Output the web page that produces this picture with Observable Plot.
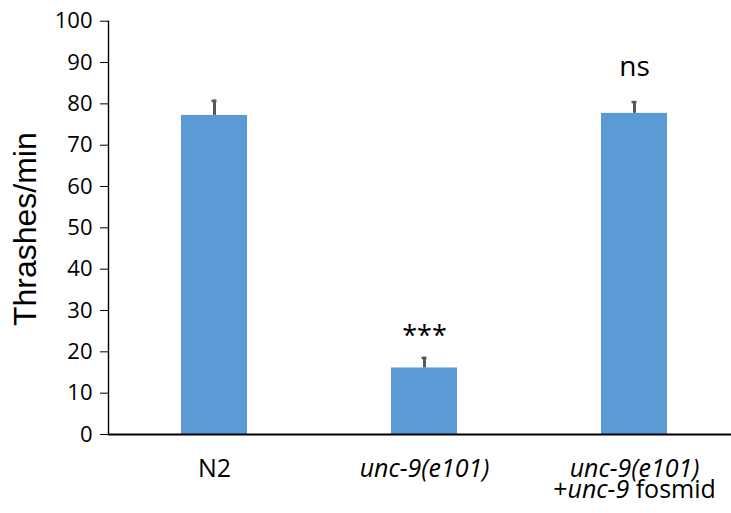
<!DOCTYPE html>
<html>
<head>
<meta charset="utf-8">
<script src="https://cdn.jsdelivr.net/npm/d3@7"></script>
<script src="https://cdn.jsdelivr.net/npm/@observablehq/plot@0.6"></script>
<style>
  html, body { margin: 0; padding: 0; background: #fff; }
  #chart svg { display: block; overflow: visible; }
</style>
</head>
<body>
<div id="chart"></div>
<script>
// ---- data ----
const groups = ["N2", "unc-9(e101)", "unc-9(e101) +unc-9 fosmid"];
const means = [77.2, 16.1, 77.7];
const sems = [3.7, 2.6, 2.9];
const annotations = ["", "***", "ns"];
const yTicks = [0, 10, 20, 30, 40, 50, 60, 70, 80, 90, 100];
const yLabel = "Thrashes/min";
// x tick labels: lines of segments, "_" prefix = italic
const labelLines = [
  [["N2"]],
  [["_unc-9(e101)"]],
  [["_unc-9(e101)"], ["+", "_unc-9", " fosmid"]]
];

const rows = groups.map((g, i) => ({group: g, mean: means[i], sem: sems[i], top: means[i] + sems[i], note: annotations[i]}));

const plot = Plot.plot({
  width: 731,
  height: 513,
  marginLeft: 108,
  marginRight: 0,
  marginTop: 20.7,
  marginBottom: 79,
  style: {fontFamily: "Open Sans", color: "#000", background: "#fff"},
  x: {domain: groups, range: [108, 739.5], paddingInner: 0.686, paddingOuter: 0.343, label: null},
  y: {domain: [0, 100], label: null},
  marks: [
    Plot.barY(rows, {x: "group", y: "mean", fill: "#5B9BD5"}),
    Plot.ruleX(rows, {x: "group", y1: "mean", y2: "top", stroke: "#595959", strokeWidth: 3}),
    Plot.rect(rows, {x: "group", y1: d => d.top - 0.6, y2: d => d.top, fill: "#595959", insetLeft: 30.5, insetRight: 30.5}),
    Plot.axisY({ticks: yTicks, tickSize: 8, tickPadding: 8, fontSize: 22, stroke: "#000", fill: "#000", label: null}),
    Plot.axisX({tickSize: 0, tickPadding: 24.5, fontSize: 25, fill: "#000", label: null}),
    Plot.frame({anchor: "left", stroke: "#000", strokeWidth: 1.4}),
    Plot.ruleY([0], {stroke: "#000", strokeWidth: 2}),
    Plot.text(rows.filter(d => d.note === "***"), {x: "group", y: 23.7, text: "note", fontSize: 27, fill: "#000", lineAnchor: "middle"}),
    Plot.text(rows.filter(d => d.note === "ns"), {x: "group", y: 89, text: "note", fontSize: 28, fill: "#000", lineAnchor: "middle"}),
    Plot.text([yLabel], {frameAnchor: "left", textAnchor: "middle", dx: -82.5, dy: 1.3, rotate: -90, fontSize: 32, fontFamily: "Liberation Sans", fill: "#000", lineAnchor: "middle"})
  ]
});

document.getElementById("chart").appendChild(plot);

// rebuild x tick labels with italic segments
const svgNS = "http://www.w3.org/2000/svg";
d3.select(plot).selectAll('g[aria-label="x-axis tick label"] text').each(function(_, i) {
  const t = this;
  const lines = labelLines[i];
  const xAttr = t.getAttribute("x") || "0";
  while (t.firstChild) t.removeChild(t.firstChild);
  lines.forEach((segs, j) => {
    const line = document.createElementNS(svgNS, "tspan");
    line.setAttribute("x", xAttr);
    if (j > 0) line.setAttribute("dy", "0.86em");
    segs.forEach(s => {
      const sp = document.createElementNS(svgNS, "tspan");
      if (s.startsWith("_")) { sp.setAttribute("font-style", "italic"); sp.textContent = s.slice(1); }
      else sp.textContent = s;
      line.appendChild(sp);
    });
    t.appendChild(line);
  });
});
</script>
</body>
</html>
